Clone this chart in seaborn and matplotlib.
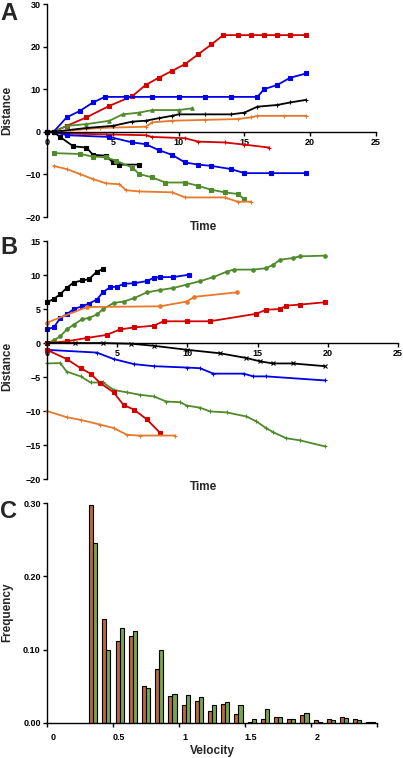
import numpy as np
import pandas as pd
import matplotlib.pyplot as plt
import matplotlib.transforms as mtrans
import seaborn as sns

# ── Panel A tracks (time, distance) ──────────────────────────────────────────
a_red_up_t = [0, 0.5, 1.5, 3, 4.75, 6.5, 7.5, 8.5, 9.5, 10.5, 11.5, 12.5, 13.4, 14.5, 15.5, 16.5, 17.5, 18.5, 19.7]
a_red_up_d = [0, 0, 1.4, 3.4, 6.1, 8.4, 11, 12.7, 14.3, 15.9, 18.2, 20.5, 22.7, 22.7, 22.7, 22.7, 22.7, 22.7, 22.7]
a_blue_up_t = [0, 0.5, 1.5, 2.5, 3.5, 4.4, 6, 8, 10, 12, 14, 16, 16.5, 17.5, 18.5, 19.7]
a_blue_up_d = [0, 0, 3.4, 4.9, 6.9, 8.2, 8.2, 8.2, 8.2, 8.2, 8.2, 8.2, 10, 11, 12.7, 13.7]
a_green_up_t = [0, 0.5, 1.5, 3, 4.75, 5.75, 7, 8, 10, 11]
a_green_up_d = [0, 0, 1.4, 1.8, 2.6, 4.1, 4.5, 5.1, 5.1, 5.5]
a_black_up_t = [0, 0.5, 3, 5, 6.5, 7.5, 8.5, 9.5, 10, 12, 14, 15, 16, 17.5, 18.5, 19.7]
a_black_up_d = [0, 0, 0.9, 1.4, 2.4, 2.6, 3.2, 3.75, 4.1, 4.1, 4.1, 4.5, 5.9, 6.3, 6.9, 7.5]
a_orange_up_t = [0, 0.5, 4, 7.5, 8, 9.5, 12, 14.5, 15.5, 16, 18, 19.7]
a_orange_up_d = [0, 0, 0.9, 1.2, 2.2, 2.6, 2.8, 3, 3.4, 3.75, 3.75, 3.75]
a_red_dn_t = [0, 0.5, 1.5, 4.5, 7.5, 8, 10.5, 11.5, 13.5, 15, 16.9]
a_red_dn_d = [0, 0, -0.4, -0.6, -0.8, -1.2, -1.5, -2.3, -2.5, -3, -3.7]
a_blue_dn_t = [0, 0.5, 1.5, 4.75, 6.5, 7.5, 8.5, 9.5, 10.5, 11.5, 12.5, 14, 15, 17, 19.7]
a_blue_dn_d = [0, 0, -0.8, -1.2, -2.5, -2.9, -4.3, -5.4, -7.2, -7.7, -8, -8.75, -9.7, -9.7, -9.7]
a_black_dn_t = [0, 0.5, 1, 2, 3, 3.5, 4.5, 5, 5.5, 7]
a_black_dn_d = [0, 0, -1.2, -3.4, -3.7, -5.4, -5.6, -7.2, -7.7, -7.7]
a_green_dn_t = [0.5, 2.5, 3.5, 4.5, 5.25, 6.5, 7, 8, 9, 10.5, 11.5, 12.5, 13.5, 14.5, 15]
a_green_dn_d = [-5, -5.2, -5.8, -6, -6.8, -8.4, -9.9, -10.7, -11.9, -11.9, -12.7, -13.6, -14.2, -14.6, -15.8]
a_orange_dn_t = [0.5, 1.5, 2.5, 3.5, 4.5, 5.5, 6, 7, 9.5, 10.5, 13.5, 14.5, 15.5]
a_orange_dn_d = [-8, -8.75, -9.9, -11.1, -12.1, -12.3, -13.7, -14, -14.2, -15.4, -15.4, -16.4, -16.4]

# ── Panel B tracks ───────────────────────────────────────────────────────────
b_black_up_t = [0, 0.5, 0.95, 1.4, 1.9, 2.5, 3, 3.55, 4]
b_black_up_d = [6, 6.5, 7.2, 8.1, 8.9, 9.2, 9.4, 10.5, 10.9]
b_blue_up_t = [0, 0.5, 0.95, 1.4, 1.9, 2.5, 3, 3.55, 4, 4.5, 5, 5.45, 6.2, 7.1, 7.6, 8.05, 9, 10.1]
b_blue_up_d = [2, 2.35, 3.7, 4.2, 5, 5.4, 5.8, 6.4, 7.5, 8.2, 8.3, 8.7, 8.8, 9.1, 9.6, 9.7, 9.7, 10.05]
b_green_up_t = [0, 0.5, 0.95, 1.4, 1.9, 2.5, 3, 3.55, 4, 4.75, 5.45, 6.2, 7.1, 8.05, 9, 9.95, 10.9,
                11.85, 12.8, 13.3, 14.7, 15.6, 16.1, 16.6, 17.5, 18, 19.8]
b_green_up_d = [0, 0.4, 1, 2, 2.7, 3.5, 3.7, 4.2, 5, 5.9, 6.1, 6.6, 7.45, 7.8, 8.1, 8.6, 9.1,
                9.7, 10.5, 10.8, 10.8, 11, 11.5, 12.25, 12.5, 12.75, 12.85]
b_orange_up_t = [0, 2.85, 8.05, 9.95, 10.5, 13.5]
b_orange_up_d = [3, 5.3, 5.4, 6.1, 6.8, 7.45]
b_red_up_t = [0, 1.4, 2.85, 4.25, 5.2, 6.2, 7.6, 8.3, 9.95, 11.6, 14.9, 15.6, 16.6, 17.05, 18, 19.8]
b_red_up_d = [0, 0.25, 0.75, 1.2, 2, 2.3, 2.55, 3.2, 3.2, 3.2, 4.3, 4.9, 5, 5.5, 5.65, 6]
b_black_dn_t = [0, 2, 4, 6, 7.6, 10, 12.3, 14.2, 15.2, 16.1, 17.5, 19.8]
b_black_dn_d = [0, 0, 0, -0.1, -0.4, -1, -1.5, -2.2, -2.7, -3, -3, -3.4]
b_blue_dn_t = [0, 3.55, 4.75, 6.2, 7.6, 9.95, 10.9, 11.85, 14, 14.7, 15.6, 19.8]
b_blue_dn_d = [-1, -1.4, -2.35, -3.1, -3.4, -3.6, -3.7, -4.5, -4.5, -4.9, -4.9, -5.5]
b_green_dn_t = [0, 0.95, 1.4, 2.4, 3.1, 4, 4.75, 5.7, 6.6, 7.6, 8.5, 9.5, 9.95, 10.9, 11.6,
                12.8, 14.2, 14.9, 15.6, 16.1, 17.05, 18, 19.8]
b_green_dn_d = [-3, -2.95, -4.2, -4.9, -5.8, -5.8, -6.9, -7.25, -7.6, -7.85, -8.6, -8.7, -9.2,
                -9.5, -10.05, -10.2, -10.8, -11.5, -12.5, -13.1, -14, -14.3, -15.2]
b_red_dn_t = [0, 1.4, 2.4, 3.1, 3.8, 4.75, 5.45, 6.2, 7.1, 8.05]
b_red_dn_d = [-1, -2.35, -3.7, -4.5, -5.9, -7.25, -9.1, -9.8, -11.2, -13.2]
b_orange_dn_t = [0, 1.4, 2.4, 3.8, 4.75, 5.7, 6.6, 9.1]
b_orange_dn_d = [-10, -10.9, -11.3, -12, -12.5, -13.5, -13.6, -13.6]

# ── Panel C velocity histogram ───────────────────────────────────────────────
velocity = [0.35, 0.45, 0.55, 0.65, 0.75, 0.85, 0.95, 1.05, 1.15, 1.25, 1.35,
            1.45, 1.55, 1.65, 1.75, 1.85, 1.95, 2.05, 2.15, 2.25, 2.35, 2.45]
freq_orange = [0.297, 0.142, 0.112, 0.119, 0.051, 0.074, 0.037, 0.025, 0.030, 0.017, 0.026,
               0.012, 0.002, 0.006, 0.008, 0.006, 0.011, 0.004, 0.005, 0.008, 0.006, 0.002]
freq_green = [0.245, 0.099, 0.130, 0.126, 0.048, 0.100, 0.039, 0.038, 0.036, 0.024, 0.028,
              0.024, 0.005, 0.019, 0.008, 0.005, 0.014, 0.002, 0.004, 0.007, 0.004, 0.001]

RED, BLUE, GREEN, BLACK, ORANGE = "#d40000", "#0000e6", "#4f8a2b", "#000000", "#e8782a"

sns.set_theme(style="white")
plt.rcParams["font.family"] = ["Liberation Sans", "DejaVu Sans"]
plt.rcParams["font.weight"] = "bold"
plt.rcParams["axes.labelweight"] = "bold"

fig = plt.figure(figsize=(4.03, 7.58), dpi=100)


def style_axes(ax):
    sns.despine(ax=ax)
    ax.spines["left"].set_color("black")
    ax.spines["bottom"].set_color("black")
    ax.spines["left"].set_linewidth(1.0)
    ax.spines["bottom"].set_linewidth(1.0)
    ax.tick_params(direction="out", length=3, width=1, colors="black", labelsize=6.5,
                   bottom=True, left=True, pad=1.5)
    for lab in ax.get_xticklabels() + ax.get_yticklabels():
        lab.set_fontweight("bold")


def track(ax, t, d, color, marker, ms=2.5):
    sns.lineplot(x=t, y=d, ax=ax, color=color, linewidth=1.3, marker=marker,
                 markersize=ms, markeredgecolor=color, markeredgewidth=0.8, sort=False,
                 clip_on=False)


# ── Panel A ──────────────────────────────────────────────────────────────────
axA = fig.add_axes([0.1166, 0.7137, 0.816, 0.281])
track(axA, a_red_up_t, a_red_up_d, RED, "s")
track(axA, a_blue_up_t, a_blue_up_d, BLUE, "s")
track(axA, a_green_up_t, a_green_up_d, GREEN, "^")
track(axA, a_orange_up_t, a_orange_up_d, ORANGE, "+", 3)
track(axA, a_black_up_t, a_black_up_d, BLACK, "+", 3)
track(axA, a_red_dn_t, a_red_dn_d, RED, "+", 3)
track(axA, a_blue_dn_t, a_blue_dn_d, BLUE, "s")
track(axA, a_black_dn_t, a_black_dn_d, BLACK, "s")
track(axA, a_green_dn_t, a_green_dn_d, GREEN, "s")
track(axA, a_orange_dn_t, a_orange_dn_d, ORANGE, "+", 3)
axA.set_xlim(0, 25)
axA.set_ylim(-20, 30)
axA.set_xticks([0, 5, 10, 15, 20, 25])
axA.set_yticks([-20, -10, 0, 10, 20, 30])
axA.spines["bottom"].set_position(("data", 0))
axA.set_xlabel("")
axA.set_ylabel("")
style_axes(axA)

# ── Panel B ──────────────────────────────────────────────────────────────────
axB = fig.add_axes([0.1166, 0.368, 0.871, 0.314])
track(axB, b_black_up_t, b_black_up_d, BLACK, "s")
track(axB, b_blue_up_t, b_blue_up_d, BLUE, "s")
track(axB, b_green_up_t, b_green_up_d, GREEN, "o")
track(axB, b_orange_up_t, b_orange_up_d, ORANGE, "o")
track(axB, b_red_up_t, b_red_up_d, RED, "s")
track(axB, b_black_dn_t, b_black_dn_d, BLACK, "x", 3)
track(axB, b_blue_dn_t, b_blue_dn_d, BLUE, "+", 3)
track(axB, b_green_dn_t, b_green_dn_d, GREEN, "+", 3)
track(axB, b_red_dn_t, b_red_dn_d, RED, "s")
track(axB, b_orange_dn_t, b_orange_dn_d, ORANGE, "+", 3)
axB.set_xlim(0, 25)
axB.set_ylim(-20, 15)
axB.set_xticks([0, 5, 10, 15, 20, 25])
axB.set_yticks([-20, -15, -10, -5, 0, 5, 10, 15])
axB.spines["bottom"].set_position(("data", 0))
axB.set_xlabel("")
axB.set_ylabel("")
style_axes(axB)

# ── Panel C ──────────────────────────────────────────────────────────────────
axC = fig.add_axes([0.1166, 0.0462, 0.819, 0.290])
dfc = pd.DataFrame({
    "velocity": velocity * 2,
    "freq": freq_orange + freq_green,
    "group": ["orange"] * len(velocity) + ["green"] * len(velocity),
})
sns.barplot(data=dfc, x="velocity", y="freq", hue="group", native_scale=True,
            palette={"orange": "#d2641e", "green": "#78b43c"}, width=0.62,
            edgecolor="black", linewidth=0.8, legend=False, ax=axC)
axC.set_xlim(0, 2.5)
axC.set_ylim(0, 0.30)
axC.set_xticks([0, 0.5, 1, 1.5, 2, 2.5])
axC.set_xticklabels(["0", "0.5", "1", "1.5", "2", ""])
axC.set_yticks([0, 0.1, 0.2, 0.3])
axC.set_yticklabels(["0.00", "0.10", "0.20", "0.30"])
axC.set_xlabel("")
axC.set_ylabel("")
style_axes(axC)
shift = mtrans.ScaledTranslation(6 / 100, -4 / 100, fig.dpi_scale_trans)
for lab in axC.get_xticklabels():
    lab.set_transform(lab.get_transform() + shift)

# ── Labels ───────────────────────────────────────────────────────────────────
lab_kw = dict(fontsize=8.5, fontweight="bold", ha="center", va="center")
fig.text(0.018, 1 - 110 / 758, "Distance", rotation=90, **lab_kw)
fig.text(0.018, 1 - 366 / 758, "Distance", rotation=90, **lab_kw)
fig.text(0.018, 1 - 612 / 758, "Frequency", rotation=90, **lab_kw)
fig.text(203 / 403, 1 - 227 / 758, "Time", **lab_kw)
fig.text(203 / 403, 1 - 487 / 758, "Time", **lab_kw)
fig.text(212 / 403, 1 - 751 / 758, "Velocity", **lab_kw)
let_kw = dict(fontsize=17, fontweight="bold", ha="left", va="top")
fig.text(0.0, 1 - 2 / 758, "A", **let_kw)
fig.text(0.0, 1 - 236 / 758, "B", **let_kw)
fig.text(0.0, 1 - 500 / 758, "C", **let_kw)

fig.savefig("out.png", dpi=100)
